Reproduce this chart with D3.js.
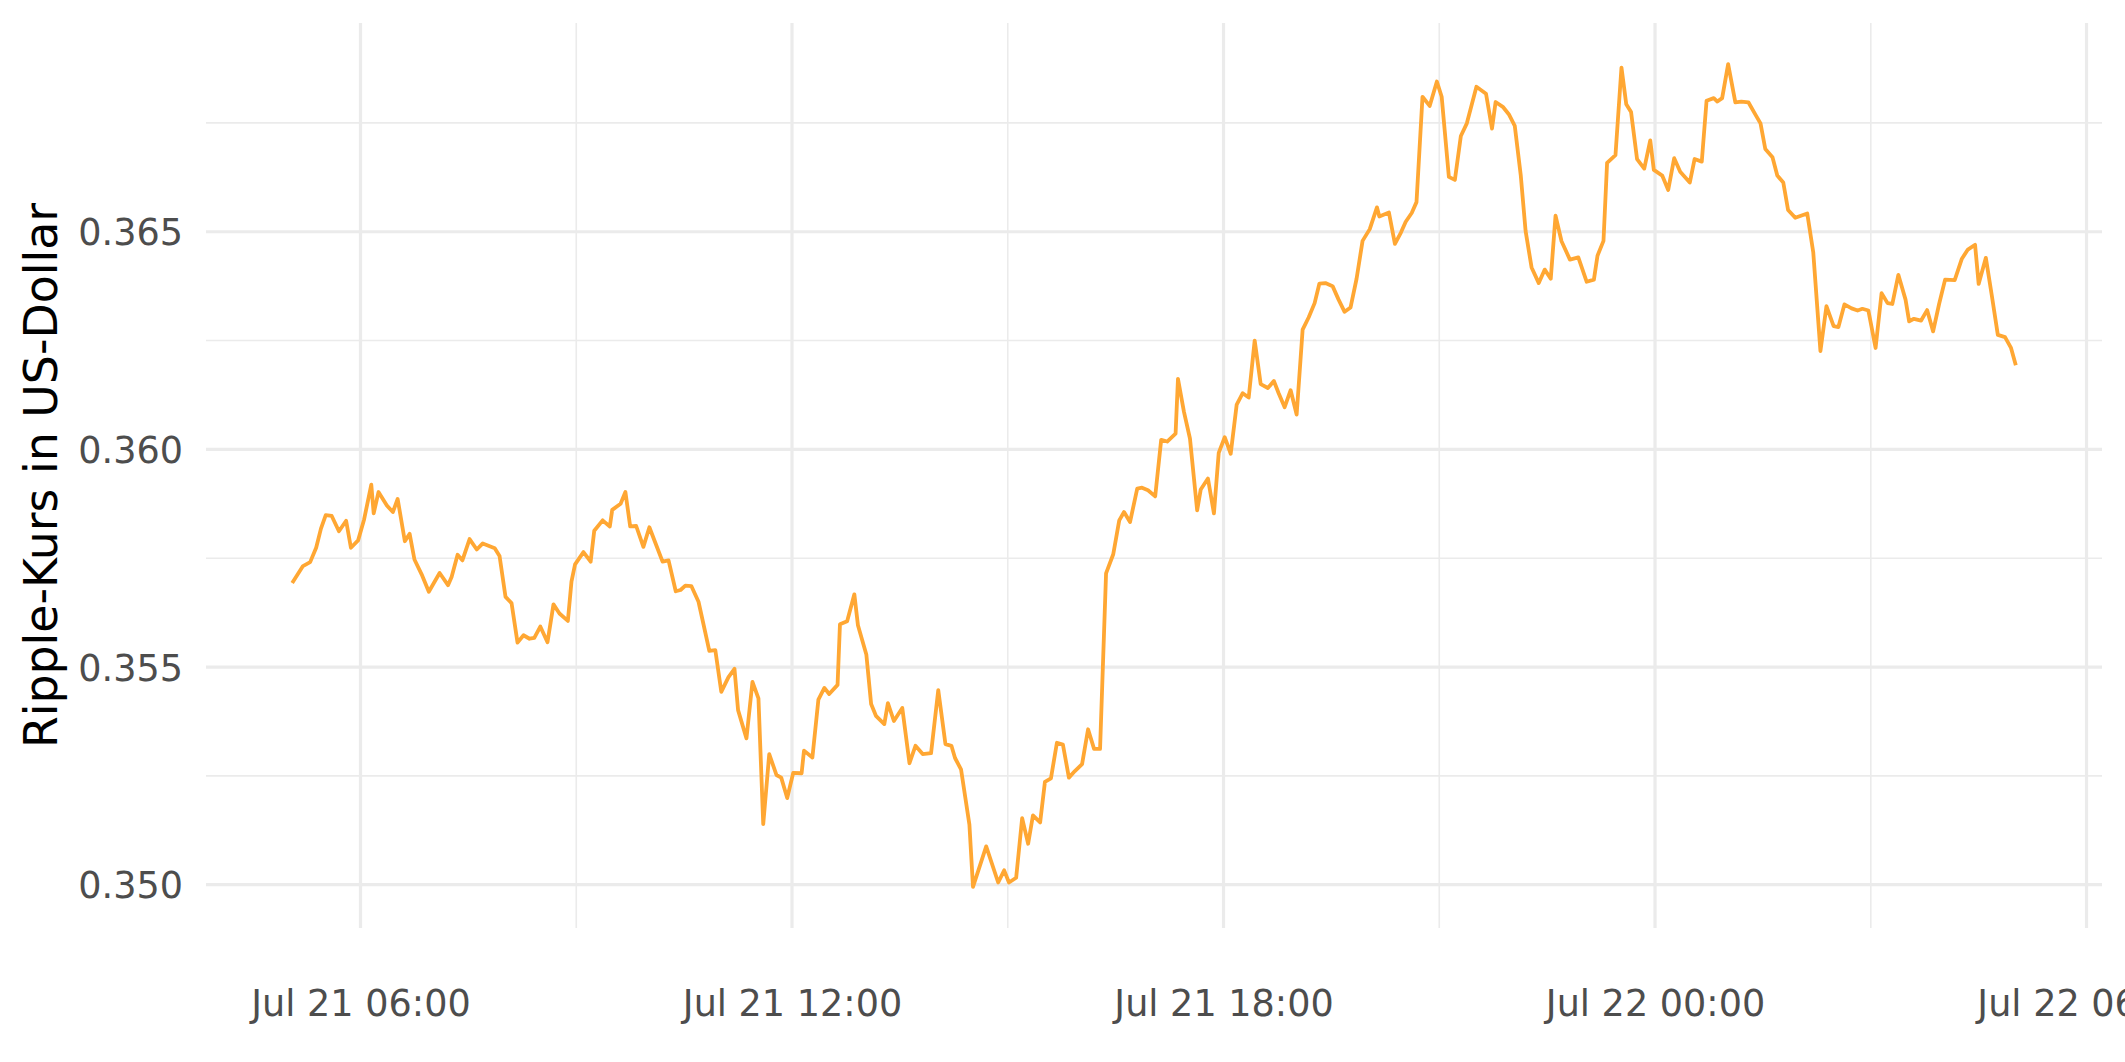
<!DOCTYPE html>
<html>
<head>
<meta charset="utf-8">
<script src="https://cdn.jsdelivr.net/npm/d3@7"></script>
<style>
  html, body { margin: 0; padding: 0; background: #ffffff; }
  svg { display: block; }
  text { font-family: "DejaVu Sans", sans-serif; }
</style>
</head>
<body>
<div id="chart"></div>
<script>
// ---- Data ----
const startDate = "2019-07-21";
const times = [
"05:03","05:12","05:18","05:23","05:27","05:31","05:36","05:42","05:48","05:52",
"05:58","06:03","06:09","06:11","06:15","06:22","06:27","06:31","06:37","06:41",
"06:45","06:51","06:57","07:06","07:13","07:16","07:21","07:25","07:31","07:37",
"07:42","07:52","07:56","08:01","08:06","08:11","08:16","08:21","08:25","08:30",
"08:36","08:41","08:46","08:53","08:56","08:59","09:06","09:12","09:15","09:22",
"09:28","09:30","09:37","09:41","09:45","09:50","09:56","10:01","10:07","10:12",
"10:17","10:23","10:27","10:31","10:36","10:42","10:46","10:51","10:56","11:01",
"11:07","11:12","11:15","11:22","11:27","11:32","11:36","11:41","11:47","11:51",
"11:56","12:01","12:08","12:10","12:17","12:22","12:27","12:31","12:38","12:40",
"12:46","12:52","12:55","13:02","13:06","13:10","13:17","13:20","13:25","13:32",
"13:38","13:43","13:49","13:56","14:02","14:08","14:13","14:16","14:21","14:28",
"14:31","14:42","14:52","14:57","15:01","15:07","15:12","15:17","15:21","15:27",
"15:31","15:36","15:41","15:46","15:51","15:56","16:02","16:07","16:12","16:17",
"16:22","16:28","16:33","16:37","16:42","16:48","16:52","16:57","17:03","17:08",
"17:13","17:20","17:22","17:27","17:32","17:38","17:41","17:47","17:52","17:56",
"18:01","18:06","18:11","18:16","18:21","18:26","18:31","18:37","18:42","18:46",
"18:51","18:56","19:01","19:06","19:11","19:16","19:20","19:25","19:31","19:36",
"19:41","19:46","19:51","19:56","20:02","20:08","20:10","20:18","20:23","20:28",
"20:32","20:37","20:41","20:46","20:52","20:58","21:02","21:08","21:13","21:18",
"21:23","21:31","21:39","21:44","21:47","21:53","21:58","22:03","22:08","22:12",
"22:17","22:23","22:28","22:33","22:37","22:42","22:49","22:56","23:03","23:09",
"23:12","23:17","23:20","23:27","23:32","23:36","23:40","23:45","23:51","23:56",
"23:59","00:06","00:11","00:16","00:21","00:29","00:33","00:39","00:43","00:49",
"00:52","00:56","01:01","01:07","01:12","01:18","01:24","01:28","01:32","01:38",
"01:42","01:47","01:51","01:57","02:07","02:12","02:18","02:23","02:29","02:33",
"02:38","02:44","02:49","02:53","02:58","03:04","03:09","03:14","03:18","03:23",
"03:29","03:32","03:36","03:42","03:47","03:52","03:57","04:02","04:10","04:16",
"04:21","04:27","04:30","04:36","04:41","04:46","04:52","04:57","05:01"
];
const prices = [
0.35693,0.35732,0.35741,0.35774,0.35818,0.35849,0.35847,0.35812,0.35836,0.35774,
0.35791,0.35839,0.35919,0.35853,0.35902,0.35871,0.35856,0.35886,0.35789,0.35806,
0.35747,0.35713,0.35673,0.35716,0.35688,0.35707,0.35758,0.35745,0.35794,0.35770,
0.35784,0.35773,0.35755,0.35661,0.35647,0.35556,0.35573,0.35565,0.35567,0.35593,
0.35557,0.35644,0.35623,0.35606,0.35696,0.35736,0.35764,0.35742,0.35813,0.35837,
0.35823,0.35861,0.35875,0.35902,0.35823,0.35824,0.35776,0.35821,0.35778,0.35742,
0.35745,0.35674,0.35677,0.35687,0.35686,0.35650,0.35600,0.35537,0.35539,0.35443,
0.35477,0.35496,0.35401,0.35336,0.35466,0.35428,0.35139,0.35300,0.35252,0.35246,
0.35199,0.35257,0.35256,0.35308,0.35292,0.35425,0.35452,0.35438,0.35459,0.35598,
0.35605,0.35667,0.35596,0.35529,0.35415,0.35388,0.35369,0.35417,0.35376,0.35406,
0.35279,0.35319,0.35300,0.35302,0.35447,0.35323,0.35319,0.35291,0.35265,0.35138,
0.34995,0.35088,0.35005,0.35033,0.35005,0.35016,0.35153,0.35094,0.35159,0.35143,
0.35236,0.35244,0.35326,0.35322,0.35246,0.35261,0.35277,0.35357,0.35312,0.35312,
0.35715,0.35759,0.35837,0.35856,0.35833,0.35910,0.35912,0.35906,0.35892,0.36022,
0.36018,0.36036,0.36162,0.36086,0.36025,0.35860,0.35908,0.35933,0.35853,0.35992,
0.36028,0.35990,0.36103,0.36129,0.36119,0.36250,0.36150,0.36141,0.36157,0.36129,
0.36097,0.36136,0.36080,0.36275,0.36303,0.36336,0.36381,0.36382,0.36375,0.36344,
0.36316,0.36326,0.36392,0.36479,0.36506,0.36556,0.36535,0.36544,0.36472,0.36498,
0.36523,0.36543,0.36568,0.36810,0.36789,0.36845,0.36810,0.36626,0.36619,0.36720,
0.36749,0.36833,0.36817,0.36737,0.36798,0.36787,0.36770,0.36743,0.36629,0.36502,
0.36418,0.36382,0.36413,0.36392,0.36537,0.36478,0.36436,0.36441,0.36385,0.36390,
0.36445,0.36479,0.36658,0.36676,0.36877,0.36793,0.36775,0.36667,0.36645,0.36710,
0.36642,0.36629,0.36596,0.36669,0.36638,0.36613,0.36667,0.36661,0.36801,0.36807,
0.36799,0.36807,0.36885,0.36797,0.36799,0.36797,0.36768,0.36749,0.36690,0.36671,
0.36629,0.36613,0.36550,0.36532,0.36542,0.36453,0.36226,0.36329,0.36283,0.36281,
0.36333,0.36324,0.36319,0.36323,0.36319,0.36233,0.36359,0.36336,0.36334,0.36401,
0.36344,0.36294,0.36300,0.36296,0.36320,0.36271,0.36334,0.36390,0.36389,0.36438,
0.36459,0.36470,0.36380,0.36440,0.36353,0.36263,0.36258,0.36233,0.36193
];
const yMajorTicks = [0.350, 0.355, 0.360, 0.365];
const yMinorTicks = [0.3525, 0.3575, 0.3625, 0.3675];
const xMajorTicks = ["2019-07-21 06:00", "2019-07-21 12:00", "2019-07-21 18:00", "2019-07-22 00:00", "2019-07-22 06:00"];
const xMinorTicks = ["2019-07-21 03:00", "2019-07-21 09:00", "2019-07-21 15:00", "2019-07-21 21:00", "2019-07-22 03:00"];
const yTitle = "Ripple-Kurs in US-Dollar";

// ---- Build dated series ----
const parse = d3.timeParse("%Y-%m-%d %H:%M");
const base = parse(startDate + " 00:00");
let dayOffset = 0, prevMin = -1;
const data = times.map((t, i) => {
  const [h, m] = t.split(":").map(Number);
  const mins = h * 60 + m;
  if (mins < prevMin) dayOffset += 1;
  prevMin = mins;
  return { date: d3.timeMinute.offset(base, dayOffset * 1440 + mins), value: prices[i] };
});

// ---- Layout ----
const W = 2125, H = 1062;
const panel = { left: 206, right: 2102, top: 23, bottom: 928 };

const svg = d3.select("#chart").append("svg")
  .attr("width", W).attr("height", H)
  .attr("viewBox", `0 0 ${W} ${H}`);

const xExt = d3.extent(data, d => d.date);
const xPad = (xExt[1] - xExt[0]) * 0.05;
const x = d3.scaleTime()
  .domain([new Date(+xExt[0] - xPad), new Date(+xExt[1] + xPad)])
  .range([panel.left, panel.right]);

const yExt = d3.extent(data, d => d.value);
const yPad = (yExt[1] - yExt[0]) * 0.05;
const y = d3.scaleLinear()
  .domain([yExt[0] - yPad, yExt[1] + yPad])
  .range([panel.bottom, panel.top]);

const grid = svg.append("g");
const gridColor = "#EBEBEB";
const xMinorDates = xMinorTicks.map(parse).filter(d => x(d) >= panel.left && x(d) <= panel.right);
const xMajorDates = xMajorTicks.map(parse);

// minor grid
grid.selectAll(".ymin").data(yMinorTicks.filter(v => y(v) >= panel.top && y(v) <= panel.bottom))
  .enter().append("line")
  .attr("x1", panel.left).attr("x2", panel.right)
  .attr("y1", d => y(d)).attr("y2", d => y(d))
  .attr("stroke", gridColor).attr("stroke-width", 1.6);
grid.selectAll(".xmin").data(xMinorDates)
  .enter().append("line")
  .attr("y1", panel.top).attr("y2", panel.bottom)
  .attr("x1", d => x(d)).attr("x2", d => x(d))
  .attr("stroke", gridColor).attr("stroke-width", 1.6);
// major grid
grid.selectAll(".ymaj").data(yMajorTicks)
  .enter().append("line")
  .attr("x1", panel.left).attr("x2", panel.right)
  .attr("y1", d => y(d)).attr("y2", d => y(d))
  .attr("stroke", gridColor).attr("stroke-width", 3.2);
grid.selectAll(".xmaj").data(xMajorDates)
  .enter().append("line")
  .attr("y1", panel.top).attr("y2", panel.bottom)
  .attr("x1", d => x(d)).attr("x2", d => x(d))
  .attr("stroke", gridColor).attr("stroke-width", 3.2);

// ---- Line ----
const line = d3.line().x(d => x(d.date)).y(d => y(d.value));
svg.append("path").datum(data)
  .attr("d", line)
  .attr("fill", "none")
  .attr("stroke", "#FFA733")
  .attr("stroke-width", 3.8)
  .attr("stroke-linejoin", "round")
  .attr("stroke-linecap", "butt");

// ---- Axes ----
const xAxis = d3.axisBottom(x)
  .tickValues(xMajorDates)
  .tickFormat(d3.timeFormat("%b %d %H:%M"))
  .tickSize(0).tickPadding(0);
const gx = svg.append("g").attr("transform", `translate(0, ${panel.bottom})`).call(xAxis);
gx.select(".domain").remove();
gx.selectAll("text")
  .attr("y", 88).attr("dy", null)
  .attr("fill", "#4D4D4D")
  .style("font-size", "36.6px")
  .style("font-family", "'DejaVu Sans', sans-serif");

const yAxis = d3.axisLeft(y)
  .tickValues(yMajorTicks)
  .tickFormat(d3.format(".3f"))
  .tickSize(0).tickPadding(0);
const gy = svg.append("g").attr("transform", `translate(${panel.left}, 0)`).call(yAxis);
gy.select(".domain").remove();
gy.selectAll("text")
  .attr("x", -23).attr("dy", "0.36em")
  .attr("fill", "#4D4D4D")
  .style("font-size", "36.6px")
  .style("font-family", "'DejaVu Sans', sans-serif");

// ---- Y title ----
svg.append("text")
  .attr("transform", `translate(57, ${(panel.top + panel.bottom) / 2}) rotate(-90)`)
  .attr("text-anchor", "middle")
  .attr("fill", "#000000")
  .style("font-size", "45.8px")
  .text(yTitle);
</script>
</body>
</html>
